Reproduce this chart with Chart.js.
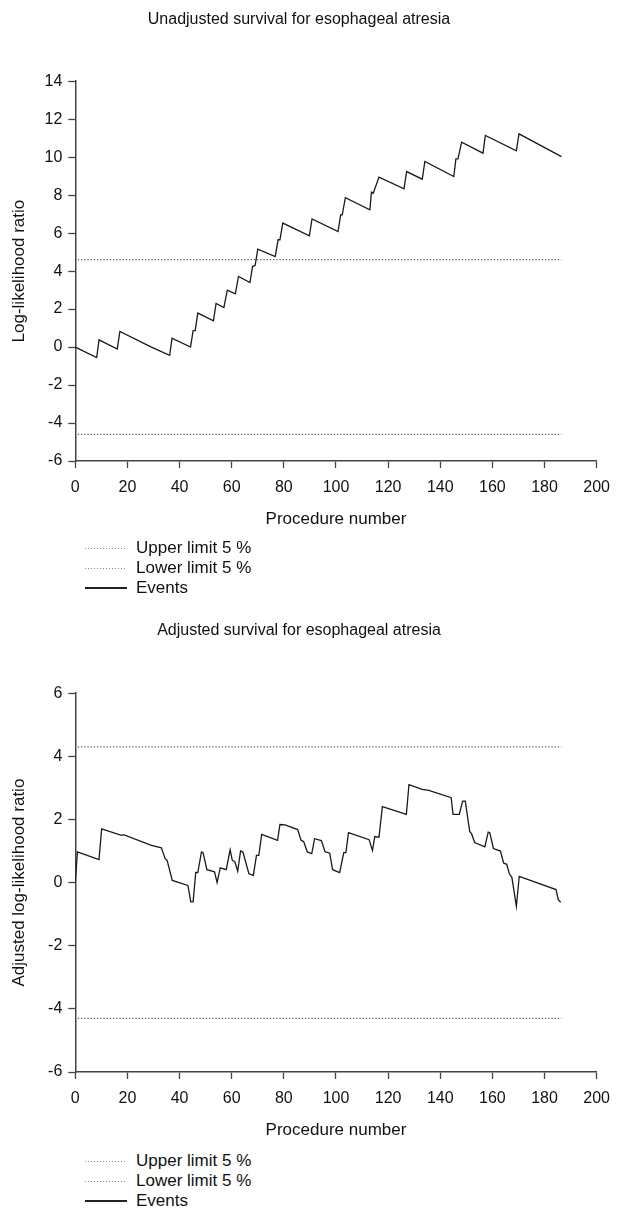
<!DOCTYPE html>
<html>
<head>
<meta charset="utf-8">
<script src="https://cdn.jsdelivr.net/npm/chart.js@4"></script>
<style>
  body { margin: 0; background: #fff; width: 620px; height: 1209px; position: relative; overflow: hidden;
         font-family: "Liberation Sans", Arial, sans-serif; }
  .box { position: absolute; left: 0; width: 620px; height: 540px; }
  .legend { position: absolute; left: 85px; font-size: 17px; color: #111; }
  .row { height: 20px; display: flex; align-items: center; }
  .key { width: 42px; height: 1px; margin-right: 9px; }
  .dots { background: repeating-linear-gradient(to right, #888 0 1px, transparent 1px 3px); }
  .solid { background: #222; height: 1.4px; }
</style>
</head>
<body>
<div class="box" style="top:0"><canvas id="unadjChart"></canvas></div>
<div class="legend" id="leg1" style="top:538px"></div>
<div class="box" style="top:610px"><canvas id="adjChart"></canvas></div>
<div class="legend" id="leg2" style="top:1151px"></div>

<script>
// unadjusted LLR (procedure number, value)
var unadjX = [0, 8.2, 9.1, 16.1, 17.1, 29.2, 36.2, 37.1, 44.2, 45.2, 46.0, 47.0, 53.0, 54.0, 57.0, 58.3,
              61.4, 62.6, 67.0, 68.0, 69.0, 70.0, 76.7, 77.8, 78.5, 79.6, 89.8, 90.8, 100.8, 101.8, 102.4,
              103.6, 113.0, 113.6, 114.3, 116.5, 126.1, 127.1, 133.1, 134.1, 145.2, 146.0, 146.8, 148.2,
              156.4, 157.3, 169.2, 170.2, 186.5];
var unadjY = [0, -0.55, 0.38, -0.1, 0.82, 0.0, -0.44, 0.47, 0.0, 0.87, 0.87, 1.79, 1.38, 2.3, 2.08, 3.0,
              2.8, 3.72, 3.4, 4.24, 4.3, 5.16, 4.77, 5.65, 5.65, 6.53, 5.86, 6.75, 6.08, 6.96, 6.96,
              7.87, 7.23, 8.16, 8.10, 8.95, 8.33, 9.24, 8.84, 9.77, 8.98, 9.91, 9.91, 10.79,
              10.21, 11.14, 10.33, 11.23, 10.03];

// adjusted LLR
var adjX = [0, 0.8, 9.1, 10.1, 17.7, 18.5, 29.2, 33.0, 34.5, 35.2, 37.2, 43.2, 44.3, 45.2, 46.2, 47.0,
            48.4, 49.0, 50.5, 53.4, 54.4, 55.6, 57.9, 59.4, 60.2, 61.2, 62.3, 63.4, 64.3, 66.6, 68.3,
            69.5, 70.4, 71.5, 77.6, 78.5, 80.5, 85.3, 86.6, 87.6, 89.0, 90.7, 91.8, 94.4, 95.8, 97.6,
            98.7, 101.4, 103.0, 103.8, 104.8, 112.7, 114.0, 114.9, 116.5, 117.8, 127.0, 128.0, 133.0,
            135.6, 144.2, 144.9, 147.3, 148.6, 149.6, 151.3, 152.0, 153.2, 157.1, 158.4, 159.0, 160.4,
            163.1, 164.3, 165.5, 166.5, 167.5, 169.2, 170.3, 184.4, 185.3, 186.2];
var adjY = [0, 0.97, 0.73, 1.70, 1.50, 1.52, 1.18, 1.10, 0.75, 0.71, 0.07, -0.09, -0.61, -0.61, 0.32, 0.32,
            0.97, 0.95, 0.41, 0.34, 0.0, 0.47, 0.41, 1.04, 0.71, 0.66, 0.36, 1.0, 0.97, 0.28, 0.23,
            0.86, 0.86, 1.53, 1.34, 1.84, 1.83, 1.68, 1.34, 1.30, 0.97, 0.92, 1.39, 1.33, 0.98, 0.93,
            0.41, 0.32, 0.95, 0.95, 1.58, 1.36, 1.02, 1.46, 1.44, 2.41, 2.16, 3.10, 2.95,
            2.92, 2.69, 2.16, 2.16, 2.58, 2.58, 1.62, 1.55, 1.27, 1.13, 1.60, 1.58, 1.08,
            1.0, 0.62, 0.58, 0.28, 0.16, -0.75, 0.20, -0.22, -0.55, -0.62];

// control limits
var limitX = [1, 186.5];
var unadjLimits = [4.6, -4.6];
var adjLimits = [4.3, -4.3];

var xTicks = { min: 0, max: 200, step: 20 };
var legendNames = ['Upper limit 5 %', 'Lower limit 5 %', 'Events'];

Chart.defaults.font.family = '"Liberation Sans", Arial, sans-serif';
Chart.defaults.color = '#111';

function pts(xs, ys) {
    return xs.map(function (x, i) { return { x: x, y: ys[i] }; });
}

function limitLine(label, v) {
    return {
        label: label,
        data: pts(limitX, [v, v]),
        showLine: true,
        borderColor: '#555',
        borderWidth: 1.2,
        borderDash: [1.2, 2],
        pointRadius: 0
    };
}

function makeChart(id, title, yTitle, xs, ys, limits, yMin, yMax, pad) {
    var ctx = document.getElementById(id).getContext('2d');
    return new Chart(ctx, {
        type: 'scatter',
        data: {
            datasets: [
                limitLine(legendNames[0], limits[0]),
                limitLine(legendNames[1], limits[1]),
                {
                    label: legendNames[2],
                    data: pts(xs, ys),
                    showLine: true,
                    borderColor: '#1a1a1a',
                    borderWidth: 1.3,
                    pointRadius: 0,
                    tension: 0
                }
            ]
        },
        options: {
            responsive: true,
            maintainAspectRatio: false,
            animation: false,
            layout: { padding: { left: 0, right: 22, top: 0, bottom: 0 } },
            plugins: {
                legend: { display: false },
                tooltip: { enabled: false },
                title: {
                    display: true,
                    text: title,
                    font: { size: 16, weight: 'normal' },
                    color: '#111',
                    padding: { top: pad.titleTop, bottom: pad.titleBottom }
                }
            },
            scales: {
                x: {
                    type: 'linear',
                    min: xTicks.min,
                    max: xTicks.max,
                    afterFit: function (scale) { scale.height = pad.xHeight; },
                    ticks: { stepSize: xTicks.step, maxRotation: 0, padding: 10, font: { size: 16 }, color: '#111' },
                    grid: { display: true, drawOnChartArea: false, drawTicks: true, tickLength: 7, color: '#444', tickWidth: 1.3 },
                    border: { display: true, color: '#444', width: 1.5 },
                    title: { display: true, text: 'Procedure number', font: { size: 17 }, color: '#111',
                             padding: { top: 0, bottom: pad.xTitle } }
                },
                y: {
                    min: yMin,
                    max: yMax,
                    afterFit: function (scale) { scale.width = 75.3; },
                    ticks: { stepSize: 2, padding: 6, font: { size: 16 }, color: '#111' },
                    grid: { display: true, drawOnChartArea: false, drawTicks: true, tickLength: 7, color: '#444', tickWidth: 1.3 },
                    border: { display: true, color: '#444', width: 1.5 },
                    title: { display: true, text: yTitle, font: { size: 17 }, color: '#111',
                             padding: { top: 9, bottom: 0 } }
                }
            }
        }
    });
}

function makeLegend(id) {
    var el = document.getElementById(id);
    var kinds = ['dots', 'dots', 'solid'];
    legendNames.forEach(function (name, i) {
        var row = document.createElement('div');
        row.className = 'row';
        var key = document.createElement('span');
        key.className = 'key ' + kinds[i];
        var txt = document.createElement('span');
        txt.textContent = name;
        row.appendChild(key);
        row.appendChild(txt);
        el.appendChild(row);
    });
}

makeChart('unadjChart', 'Unadjusted survival for esophageal atresia', 'Log-likelihood ratio',
    unadjX, unadjY, unadjLimits, -6, 14,
    { titleTop: 10, titleBottom: 52, xHeight: 79, xTitle: 10 });
makeChart('adjChart', 'Adjusted survival for esophageal atresia', 'Adjusted log-likelihood ratio',
    adjX, adjY, adjLimits, -6, 6,
    { titleTop: 11, titleBottom: 53, xHeight: 78, xTitle: 9 });
makeLegend('leg1');
makeLegend('leg2');
</script>
</body>
</html>
